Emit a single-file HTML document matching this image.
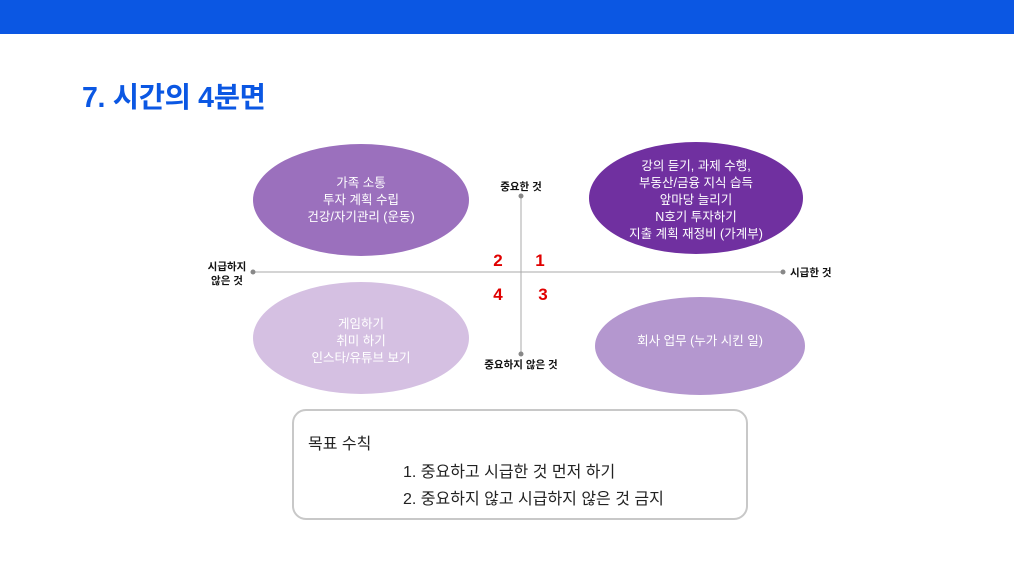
<!DOCTYPE html>
<html><head><meta charset="utf-8"><style>
body{margin:0;width:1014px;height:570px;background:#fff;position:relative;overflow:hidden;font-family:"Liberation Sans","Noto Sans CJK KR",sans-serif}
.top{position:absolute;left:0;top:0;width:1014px;height:34px;background:#0b57e3}
.title{position:absolute;left:82px;top:75px;font-size:28.5px;font-weight:bold;color:#0b57e3;letter-spacing:-0.3px}
.box{position:absolute;left:292px;top:409px;width:456px;height:111px;border:2px solid #c8c8c8;border-radius:14px;box-sizing:border-box}
.t{position:absolute;color:#222;font-size:16px;white-space:nowrap}
</style></head><body>
<div class="top"></div>
<div class="title">7. 시간의 4분면</div>
<svg width="1014" height="570" style="position:absolute;left:0;top:0" font-family="Liberation Sans, Noto Sans CJK KR, sans-serif">
<ellipse cx="361" cy="200" rx="108" ry="56" fill="#9b70bd"/>
<ellipse cx="696" cy="198" rx="107" ry="56" fill="#7030a0"/>
<ellipse cx="361" cy="338" rx="108" ry="56" fill="#d5c0e2"/>
<ellipse cx="700" cy="346" rx="105" ry="49" fill="#b497cf"/>
<line x1="253" y1="272" x2="783" y2="272" stroke="#aaa" stroke-width="1"/>
<line x1="521" y1="196" x2="521" y2="354" stroke="#aaa" stroke-width="1"/>
<circle cx="253" cy="272" r="2.5" fill="#888"/><circle cx="783" cy="272" r="2.5" fill="#888"/>
<circle cx="521" cy="196" r="2.5" fill="#888"/><circle cx="521" cy="354" r="2.5" fill="#888"/>
<g fill="#fff" font-size="12.5" text-anchor="middle">
<text x="361" y="187">가족 소통</text><text x="361" y="204">투자 계획 수립</text><text x="361" y="221">건강/자기관리 (운동)</text>
<text x="696" y="170">강의 듣기, 과제 수행,</text><text x="696" y="187">부동산/금융 지식 습득</text><text x="696" y="204">앞마당 늘리기</text><text x="696" y="221">N호기 투자하기</text><text x="696" y="238">지출 계획 재정비 (가계부)</text>
<text x="361" y="328">게임하기</text><text x="361" y="345">취미 하기</text><text x="361" y="362">인스타/유튜브 보기</text>
<text x="700" y="345">회사 업무 (누가 시킨 일)</text>
</g>
<g fill="#111" font-size="10.5" font-weight="bold">
<text x="521" y="190" text-anchor="middle">중요한 것</text>
<text x="521" y="368" text-anchor="middle">중요하지 않은 것</text>
<text x="227" y="270" text-anchor="middle">시급하지</text>
<text x="227" y="284" text-anchor="middle">않은 것</text>
<text x="790" y="276">시급한 것</text>
</g>
<g fill="#e00000" font-size="17" font-weight="bold" text-anchor="middle">
<text x="498" y="266">2</text><text x="540" y="266">1</text>
<text x="498" y="300">4</text><text x="543" y="300">3</text>
</g>
</svg>
<div class="box"></div>
<div class="t" style="left:308px;top:430px">목표 수칙</div>
<div class="t" style="left:403px;top:458px">1. 중요하고 시급한 것 먼저 하기</div>
<div class="t" style="left:403px;top:485px">2. 중요하지 않고 시급하지 않은 것 금지</div>
</body></html>
